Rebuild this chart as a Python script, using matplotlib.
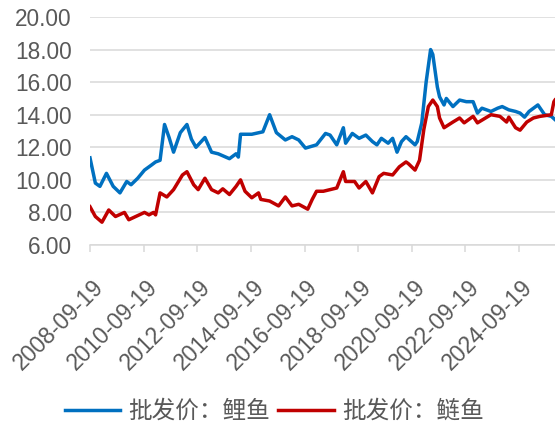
import numpy as np
import pandas as pd
import matplotlib
matplotlib.use("Agg")
import matplotlib.pyplot as plt
import matplotlib.transforms as mtransforms

plt.rcParams['font.family'] = ['Liberation Sans', 'Noto Sans CJK SC', 'DejaVu Sans']

# 批发价：鲤鱼 (blue)
carp_dates = ["2008-09-19", "2008-12", "2009-02", "2009-05", "2009-08", "2009-11",
              "2010-02", "2010-04", "2010-07", "2010-10", "2011-01", "2011-03",
              "2011-05", "2011-07", "2011-09", "2011-11", "2012-02", "2012-05",
              "2012-07", "2012-09", "2013-01", "2013-04", "2013-07", "2013-12",
              "2014-03", "2014-04", "2014-05", "2014-10", "2015-03", "2015-06",
              "2015-09", "2016-01", "2016-04", "2016-07", "2016-10", "2017-03",
              "2017-07", "2017-09", "2017-12", "2018-03", "2018-04", "2018-07",
              "2018-10", "2019-01", "2019-04", "2019-06", "2019-08", "2019-11",
              "2020-01", "2020-03", "2020-05", "2020-07", "2020-11", "2020-12",
              "2021-02", "2021-04", "2021-06", "2021-07", "2021-09", "2021-10",
              "2021-12", "2022-01", "2022-04", "2022-07", "2022-10", "2023-01",
              "2023-03", "2023-05", "2023-09", "2023-12", "2024-02", "2024-05",
              "2024-08", "2024-10", "2024-12", "2025-02", "2025-06", "2025-09",
              "2025-12", "2026-01-20"]
carp_vals = [11.35, 9.8, 9.6, 10.4, 9.6, 9.2,
             9.9, 9.7, 10.1, 10.6, 10.9, 11.1,
             11.2, 13.4, 12.6, 11.7, 12.9, 13.4,
             12.5, 12.0, 12.6, 11.7, 11.6, 11.3,
             11.6, 11.4, 12.8, 12.8, 12.95, 14.0,
             12.9, 12.45, 12.65, 12.45, 11.95, 12.15,
             12.85, 12.75, 12.15, 13.2, 12.25, 12.85,
             12.55, 12.75, 12.35, 12.15, 12.55, 12.25,
             12.55, 11.7, 12.35, 12.65, 12.15, 12.35,
             13.5, 16.0, 18.0, 17.7, 15.7, 15.1,
             14.6, 15.0, 14.5, 14.9, 14.8, 14.8,
             14.1, 14.4, 14.2, 14.4, 14.5, 14.3,
             14.2, 14.1, 13.85, 14.2, 14.6, 14.0,
             13.9, 13.7]

# 批发价：鲢鱼 (red)
silver_dates = ["2008-09-19", "2008-12", "2009-03", "2009-06", "2009-09", "2010-01",
                "2010-03", "2010-10", "2010-12", "2011-02", "2011-03", "2011-05",
                "2011-08", "2011-11", "2012-03", "2012-05", "2012-08", "2012-10",
                "2013-01", "2013-04", "2013-07", "2013-09", "2013-12", "2014-03",
                "2014-05", "2014-07", "2014-10", "2015-01", "2015-02", "2015-06",
                "2015-10", "2016-01", "2016-04", "2016-07", "2016-11", "2017-01",
                "2017-03", "2017-06", "2017-09", "2017-12", "2018-03", "2018-04",
                "2018-08", "2018-10", "2019-01", "2019-04", "2019-07", "2019-09",
                "2020-01", "2020-04", "2020-07", "2020-08", "2020-11", "2021-01",
                "2021-03", "2021-05", "2021-07", "2021-09", "2021-10", "2021-12",
                "2022-04", "2022-07", "2022-09", "2023-01", "2023-03", "2023-09",
                "2024-01", "2024-04", "2024-05", "2024-08", "2024-10", "2025-01",
                "2025-04", "2025-07", "2025-12", "2026-01-05", "2026-01-20"]
silver_vals = [8.35, 7.75, 7.4, 8.15, 7.75, 8.0,
               7.55, 8.0, 7.85, 8.0, 7.85, 9.2,
               8.95, 9.4, 10.3, 10.5, 9.7, 9.4,
               10.1, 9.4, 9.2, 9.45, 9.1, 9.6,
               10.0, 9.3, 8.9, 9.2, 8.8, 8.7,
               8.4, 8.95, 8.4, 8.5, 8.2, 8.8,
               9.3, 9.3, 9.4, 9.5, 10.5, 9.9,
               9.9, 9.5, 9.9, 9.2, 10.2, 10.4,
               10.3, 10.8, 11.1, 11.0, 10.6, 11.2,
               13.1, 14.5, 14.9, 14.5, 13.8, 13.2,
               13.55, 13.8, 13.5, 13.9, 13.5, 14.0,
               13.9, 13.55, 13.85, 13.2, 13.05, 13.55,
               13.8, 13.9, 14.0, 14.8, 14.9]

tick_labels = ["2008-09-19", "2010-09-19", "2012-09-19", "2014-09-19", "2016-09-19",
               "2018-09-19", "2020-09-19", "2022-09-19", "2024-09-19"]

labels = ["批发价：鲤鱼", "批发价：鲢鱼"]
colors = ["#0070C0", "#C00000"]
grey = "#595959"

fig = plt.figure(figsize=(5.55, 4.23), dpi=100)
ax = fig.add_axes([90/555, 1-245/423, 1-90/555, (245-17)/423])

ax.plot(pd.to_datetime(carp_dates, format='mixed'), carp_vals, color=colors[0], lw=2.5,
        label=labels[0], solid_joinstyle='round')
ax.plot(pd.to_datetime(silver_dates, format='mixed'), silver_vals, color=colors[1], lw=2.5,
        label=labels[1], solid_joinstyle='round')

ax.set_ylim(6, 20)
ax.set_yticks(np.arange(6, 21, 2))
ax.yaxis.set_major_formatter(matplotlib.ticker.FormatStrFormatter('%.2f'))
ax.set_xlim(pd.Timestamp("2008-09-19"), pd.Timestamp("2026-01-20"))
ax.set_xticks(pd.to_datetime(tick_labels))
ax.set_xticklabels(tick_labels, rotation=45, ha='right', va='center', rotation_mode='anchor')

ax.grid(axis='y', color='#D9D9D9', lw=1.1)
ax.set_axisbelow(True)
for s in ['top', 'right', 'left']:
    ax.spines[s].set_visible(False)
ax.spines['bottom'].set_color('#D9D9D9')
ax.spines['bottom'].set_linewidth(1.1)
ax.tick_params(axis='y', length=0, pad=13, labelsize=16.3, labelcolor=grey)
ax.tick_params(axis='x', length=5, width=1.1, color='#D9D9D9', pad=23,
               labelsize=16.5, labelcolor=grey)

# nudge the rotated date labels to the right (after tick_params, which resets transforms)
shift = mtransforms.ScaledTranslation(10/100, 0, fig.dpi_scale_trans)
for lab in ax.get_xticklabels():
    lab.set_transform(lab.get_transform() + shift)

fig.legend(loc='center', bbox_to_anchor=(0.494, 0.027), ncol=2, frameon=False,
           fontsize=17, labelcolor=grey, handlelength=2.35, handletextpad=0.34,
           columnspacing=0.34, borderpad=0, borderaxespad=0)

fig.savefig("out.png", dpi=100)
